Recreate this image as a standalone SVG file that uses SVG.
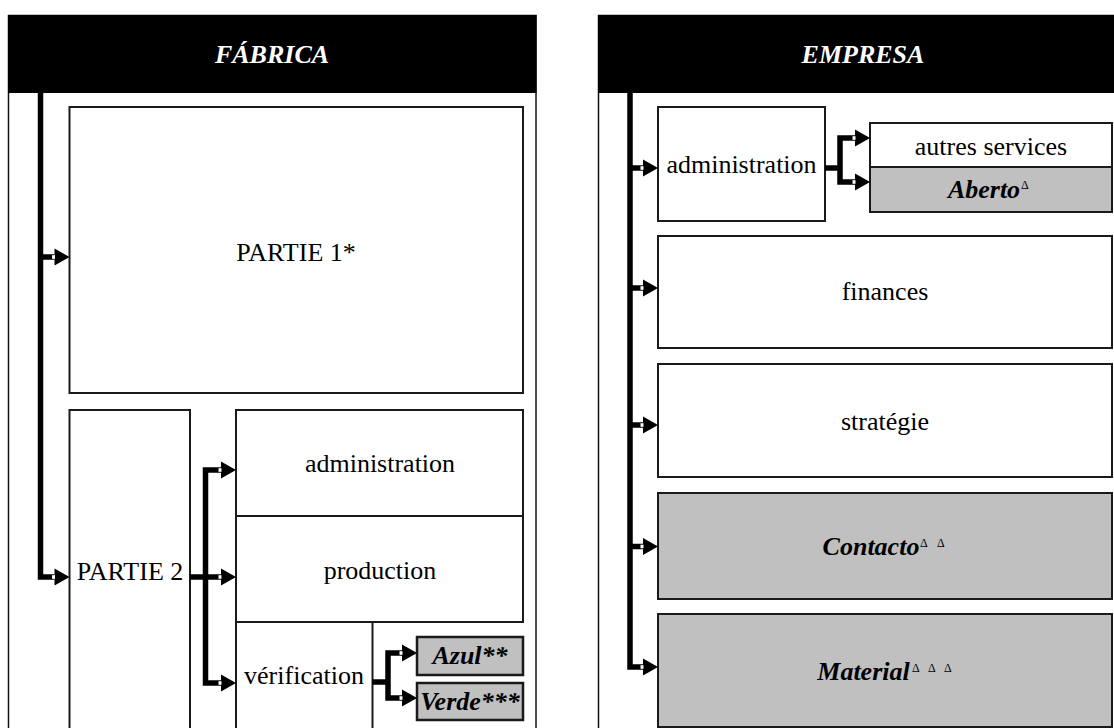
<svg xmlns="http://www.w3.org/2000/svg" width="1114" height="728" viewBox="0 0 1114 728">
<style>
.frame{fill:#fff;stroke:#111;stroke-width:1.5}
.hdr{fill:#000}
.box{fill:#fff;stroke:#1a1a1a;stroke-width:2}
.gbox{fill:#c0c0c0;stroke:#1a1a1a;stroke-width:2}
.gbox2{fill:#c0c0c0;stroke:#1a1a1a;stroke-width:2.5}
.t{font-family:"Liberation Serif","Times New Roman",serif;font-size:26px;fill:#000;text-anchor:middle}
.b{font-weight:bold;font-style:italic}
.h{font-family:"Liberation Serif","Times New Roman",serif;font-size:26px;fill:#fff;font-weight:bold;font-style:italic;text-anchor:middle}
.sup{font-family:"Liberation Serif","Times New Roman",serif;font-size:12px;fill:#000}
.c{fill:none;stroke:#000;stroke-width:5.5;stroke-linejoin:miter;marker-end:url(#ah)}
.l{fill:none;stroke:#000;stroke-width:5.5;stroke-linejoin:miter}
</style>
<defs>
<marker id="ah" markerUnits="userSpaceOnUse" markerWidth="16" markerHeight="18" viewBox="0 0 16 18" refX="0" refY="9" orient="auto" overflow="visible">
<polygon points="0,0.5 15,9 0,17.5" fill="#000"/>
<rect x="-2.5" y="7.2" width="3" height="3.6" fill="#fff"/>
</marker>
</defs>

<g id="panel-fabrica">
<rect class="frame" x="8.5" y="15.5" width="527.5" height="730"/>
<rect class="hdr" x="8" y="15" width="528.5" height="78"/>
<text class="h" x="272" y="63">FÁBRICA</text>
</g>

<g id="panel-empresa">
<rect class="frame" x="598.5" y="15.5" width="530" height="730"/>
<rect class="hdr" x="598" y="15" width="531" height="78"/>
<text class="h" x="863" y="63">EMPRESA</text>
</g>

<g id="partie1">
<rect class="box" x="69.5" y="107" width="453.5" height="286"/>
<text class="t" x="296" y="261">PARTIE 1*</text>
</g>

<g id="partie2">
<rect class="box" x="69.5" y="410" width="120.5" height="330"/>
<text class="t" x="130" y="580">PARTIE 2</text>
</g>

<g id="f-administration">
<rect class="box" x="236" y="410" width="287" height="106"/>
<text class="t" x="380" y="472">administration</text>
</g>

<g id="f-production">
<rect class="box" x="236" y="516" width="287" height="106"/>
<text class="t" x="380" y="579">production</text>
</g>

<g id="f-verification">
<rect class="box" x="236" y="622" width="136.5" height="120"/>
<text class="t" x="304" y="684">vérification</text>
</g>

<g id="azul">
<rect class="gbox2" x="417" y="637" width="106" height="38"/>
<text class="t b" x="470" y="664">Azul**</text>
</g>

<g id="verde">
<rect class="gbox2" x="417" y="683" width="106" height="37"/>
<text class="t b" x="470" y="710">Verde***</text>
</g>

<g id="e-administration">
<rect class="box" x="658" y="107" width="167" height="114"/>
<text class="t" x="741.5" y="173">administration</text>
</g>

<g id="autres-services">
<rect class="box" x="870" y="123" width="242" height="44"/>
<text class="t" x="991" y="155">autres services</text>
</g>

<g id="aberto">
<rect class="gbox" x="870" y="167" width="242" height="45"/>
<text class="t b" x="984" y="198">Aberto</text>
<text class="sup" x="1021" y="189">Δ</text>
</g>

<g id="finances">
<rect class="box" x="658" y="236" width="454" height="112"/>
<text class="t" x="885" y="300">finances</text>
</g>

<g id="strategie">
<rect class="box" x="658" y="364" width="454" height="113"/>
<text class="t" x="885" y="430">stratégie</text>
</g>

<g id="contacto">
<rect class="gbox" x="658" y="493" width="454" height="106"/>
<text class="t b" x="871" y="555">Contacto</text>
<text class="sup" x="920" y="547">Δ</text>
<text class="sup" x="937" y="547">Δ</text>
</g>

<g id="material">
<rect class="gbox" x="658" y="614" width="454" height="113"/>
<text class="t b" x="863.5" y="680">Material</text>
<text class="sup" x="912" y="672">Δ</text>
<text class="sup" x="928" y="672">Δ</text>
<text class="sup" x="944" y="672">Δ</text>
</g>

<g id="connectors">
<path class="c" d="M40.5,93 V577 H54.5"/>
<path class="c" d="M40.5,257 H54.5"/>
<path class="c" d="M190,577 H221"/>
<path class="c" d="M205.5,577 V470 H221"/>
<path class="c" d="M205.5,577 V683 H221"/>
<path class="l" d="M372.5,682 H388"/>
<path class="c" d="M388,682 V653 H402"/>
<path class="c" d="M388,682 V698 H402"/>
<path class="c" d="M630,93 V667 H643"/>
<path class="c" d="M630,168 H643"/>
<path class="c" d="M630,288 H643"/>
<path class="c" d="M630,425 H643"/>
<path class="c" d="M630,546.5 H643"/>
<path class="l" d="M825,168 H840"/>
<path class="c" d="M840,168 V138 H855"/>
<path class="c" d="M840,168 V182 H855"/>
</g>
</svg>
